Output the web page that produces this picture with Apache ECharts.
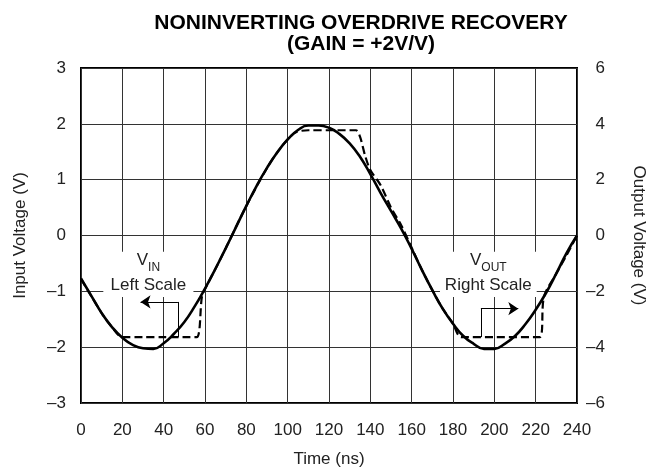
<!DOCTYPE html>
<html>
<head>
<meta charset="utf-8">
<script src="https://cdn.jsdelivr.net/npm/echarts@6/dist/echarts.min.js"></script>
<style>
  html, body { margin: 0; padding: 0; background: #fff; }
  #overdrive { width: 649px; height: 468px; }
</style>
</head>
<body>
<div id="overdrive"></div>
<script>
  // input (solid, left scale) read every 5 ns
  var timeNs = [0,5,10,15,20,25,30,35,40,45,50,55,60,65,70,75,80,85,90,95,100,105,110,115,120,
    125,130,135,140,145,150,155,160,165,170,175,180,185,190,195,200,205,210,215,220,225,230,235,240];
  var vinLeft = [-0.77,-1.08,-1.39,-1.64,-1.83,-1.96,-2.02,-2.03,-1.93,-1.76,-1.55,-1.27,-0.95,-0.60,-0.23,0.15,
    0.53,0.89,1.21,1.49,1.72,1.89,1.97,1.97,1.93,1.82,1.65,1.41,1.10,0.76,0.44,0.12,-0.24,-0.62,-0.98,-1.31,
    -1.58,-1.80,-1.94,-2.03,-2.03,-1.94,-1.80,-1.59,-1.33,-1.03,-0.68,-0.31,0];

  // output (dashed, right scale) - clipped parts
  var voutTime = [0,5,10,15,20,30,40,50,56,58.5,60,65,70,80,90,95,100,104,110,120,133,135,137.5,140,145,150,155,160,
    165,170,175,180,184,200,222,224,230,235,240];
  var voutRight = [-1.56,-2.17,-2.78,-3.28,-3.64,-3.64,-3.64,-3.64,-3.64,-2.2,-1.92,-1.2,-0.46,1.06,2.42,2.98,3.44,3.70,
    3.77,3.77,3.77,3.54,2.85,2.35,1.8,1.0,0.36,-0.44,-1.24,-1.96,-2.62,-3.16,-3.64,-3.64,-3.64,-2.2,-1.36,-0.7,0];

  var fontName = 'Liberation Sans';
  var txt = '#222';

  function pairs(xs, ys) {
    var out = [];
    for (var i = 0; i < xs.length; i++) {
      out.push([xs[i], ys[i]]);
    }
    return out;
  }
  function dashMinus(v) {
    return String(v).replace('-', '\u2013');
  }

  var boxLabel = {
    show: true,
    position: 'inside',
    color: txt,
    fontFamily: fontName,
    rich: {
      v: { fontSize: 17, lineHeight: 22, verticalAlign: 'top', fontFamily: fontName, color: txt },
      s: { fontSize: 12, lineHeight: 12, padding: [9, 0, 0, 0], verticalAlign: 'top', fontFamily: fontName, color: txt },
      t: { fontSize: 17, lineHeight: 22, fontFamily: fontName, color: txt }
    }
  };

  var chart = echarts.init(document.getElementById('overdrive'));
  chart.setOption({
    animation: false,
    title: {
      text: 'NONINVERTING OVERDRIVE RECOVERY\n(GAIN = +2V/V)',
      left: 356,
      textAlign: 'center',
      top: 8,
      textStyle: { fontFamily: fontName, fontSize: 21, fontWeight: 'bold', lineHeight: 21, color: '#000' }
    },
    grid: {
      left: 81, top: 68, width: 496, height: 335,
      outerBoundsMode: 'none', containLabel: false,
      show: true, borderColor: '#000', borderWidth: 2, backgroundColor: '#fff'
    },
    xAxis: {
      type: 'value', min: 0, max: 240, interval: 20,
      name: 'Time (ns)', nameLocation: 'middle', nameGap: 48,
      nameTextStyle: { fontFamily: fontName, fontSize: 17, color: txt },
      axisLine: { show: false }, axisTick: { show: false },
      axisLabel: { margin: 19, fontFamily: fontName, fontSize: 17, color: txt },
      splitLine: { lineStyle: { color: '#333', width: 1 } }
    },
    yAxis: [{
      type: 'value', min: -3, max: 3, interval: 1,
      name: 'Input Voltage (V)', nameLocation: 'middle', nameGap: 52,
      nameTextStyle: { fontFamily: fontName, fontSize: 17, color: txt },
      axisLine: { show: false }, axisTick: { show: false },
      axisLabel: { margin: 15, fontFamily: fontName, fontSize: 17, color: txt, formatter: dashMinus },
      splitLine: { lineStyle: { color: '#333', width: 1 } }
    }, {
      type: 'value', min: -6, max: 6, interval: 2, position: 'right',
      name: 'Output Voltage (V)', nameLocation: 'middle', nameGap: 53, nameRotate: -90,
      nameTextStyle: { fontFamily: fontName, fontSize: 17, color: txt },
      axisLine: { show: false }, axisTick: { show: false },
      axisLabel: { margin: 28, align: 'right', fontFamily: fontName, fontSize: 17, color: txt, formatter: dashMinus },
      splitLine: { show: false }
    }],
    series: [{
      name: 'VIN', type: 'line', yAxisIndex: 0, smooth: true, symbol: 'none',
      data: pairs(timeNs, vinLeft),
      lineStyle: { color: '#000', width: 2.6 },
      markArea: {
        silent: true,
        itemStyle: { color: '#fff' },
        label: boxLabel,
        data: [
          [{ coord: [10.8, -0.29], label: { formatter: '{v|V}{s|IN}\n{t|Left Scale}' } }, { coord: [54.4, -1.10] }],
          [{ coord: [173.7, -0.29], label: { formatter: '{v|V}{s|OUT}\n{t|Right Scale}' } }, { coord: [220.5, -1.10] }]
        ]
      },
      z: 3
    }, {
      name: 'VOUT', type: 'line', yAxisIndex: 1, smooth: 0.3, symbol: 'none',
      data: pairs(voutTime, voutRight),
      lineStyle: { color: '#000', width: 2.2, type: [8, 4] },
      z: 4
    }, {
      // leader stems
      name: 'stems', type: 'lines', coordinateSystem: 'cartesian2d', yAxisIndex: 0,
      symbol: 'none',
      lineStyle: { color: '#000', width: 1, opacity: 1, curveness: 0 },
      data: [
        { coords: [[46.9, -1.82], [46.9, -1.19]] },
        { coords: [[193.5, -1.82], [193.5, -1.31]] }
      ],
      z: 2
    }, {
      // arrow heads
      name: 'arrows', type: 'lines', coordinateSystem: 'cartesian2d', yAxisIndex: 0,
      symbol: ['none', 'arrow'], symbolSize: 10,
      lineStyle: { color: '#000', width: 1, opacity: 1, curveness: 0 },
      data: [
        { coords: [[46.9, -1.19], [28.8, -1.19]] },
        { coords: [[193.5, -1.31], [211.6, -1.31]] }
      ],
      z: 2
    }]
  });
</script>
</body>
</html>
